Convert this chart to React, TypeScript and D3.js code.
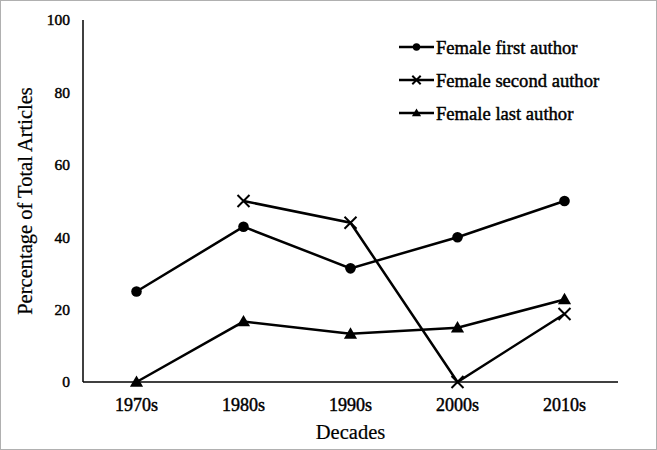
import React from "react";
import * as d3 from "d3";

const categories = ["1970s", "1980s", "1990s", "2000s", "2010s"];
const firstAuthor: (number | null)[] = [25, 42.9, 31.4, 40, 50];
const secondAuthor: (number | null)[] = [null, 50, 44, 0, 18.8];
const lastAuthor: (number | null)[] = [0, 16.7, 13.3, 15, 22.8];
const yTicks = [0, 20, 40, 60, 80, 100];
const seriesNames = ["Female first author", "Female second author", "Female last author"];

const W = 657, H = 450;
const margin = { left: 83, right: 39, top: 20, bottom: 68 };
const FONT = "'Liberation Serif', 'Times New Roman', serif";

function Marker({ kind, x, y, s = 1 }: { kind: string; x: number; y: number; s?: number }) {
  if (kind === "circle") return <circle cx={x} cy={y} r={5.3 * s} fill="#000" />;
  if (kind === "x") {
    const d = 6 * s;
    return (
      <path d={`M${x - d},${y - d}L${x + d},${y + d}M${x - d},${y + d}L${x + d},${y - d}`} stroke="#000" strokeWidth={2} fill="none" />
    );
  }
  const tri = d3.symbol(d3.symbolTriangle, 75 * s * s)();
  return <path d={tri as string} transform={`translate(${x},${y + 1 * s})`} fill="#000" />;
}

export default function App() {
  const x = d3.scaleBand().domain(categories).range([margin.left, W - margin.right]);
  const y = d3.scaleLinear().domain([0, 100]).range([H - margin.bottom, margin.top]);
  const cx = (c: string) => (x(c) as number) + x.bandwidth() / 2;

  const series = [
    { name: seriesNames[0], values: firstAuthor, marker: "circle" },
    { name: seriesNames[1], values: secondAuthor, marker: "x" },
    { name: seriesNames[2], values: lastAuthor, marker: "triangle" },
  ];

  const line = d3
    .line<{ c: string; v: number | null }>()
    .defined((d) => d.v !== null)
    .x((d) => cx(d.c))
    .y((d) => y(d.v as number));

  const heavy = { stroke: "#000", strokeWidth: 0.45 };

  return (
    <svg width={W} height={H} style={{ position: "absolute", left: 0, top: 0, background: "#fff" }} fontFamily={FONT}>
      <rect x={0.5} y={0.5} width={W - 1} height={H - 1} fill="#fff" stroke="#b0b0b0" strokeWidth={1} />
      {/* axes */}
      <line x1={margin.left} x2={margin.left} y1={y(100)} y2={y(0)} stroke="#000" strokeWidth={1.5} />
      <line x1={margin.left} x2={W - margin.right} y1={y(0)} y2={y(0)} stroke="#000" strokeWidth={1.5} />
      {yTicks.map((t) => (
        <text key={t} x={margin.left - 13} y={y(t)} dy="0.35em" textAnchor="end" fontSize={15.5} fill="#000" {...heavy}>
          {t}
        </text>
      ))}
      {categories.map((c) => (
        <text key={c} x={cx(c)} y={y(0) + 23} dy="0.35em" textAnchor="middle" fontSize={18} fill="#000" {...heavy}>
          {c}
        </text>
      ))}
      <text x={cx("1990s")} y={432} dy="0.35em" textAnchor="middle" fontSize={20.5} fill="#000" stroke="#000" strokeWidth={0.2}>
        Decades
      </text>
      <text transform={`translate(25,${(y(0) + y(100)) / 2 + 0}) rotate(-90)`} dy="0.35em" textAnchor="middle" fontSize={20.5} fill="#000" stroke="#000" strokeWidth={0.2}>
        Percentage of Total Articles
      </text>
      {series.map((s) => {
        const data = categories.map((c, i) => ({ c, v: s.values[i] }));
        return (
          <g key={s.name}>
            <path d={line(data) as string} fill="none" stroke="#000" strokeWidth={2.5} />
            {data.filter((d) => d.v !== null).map((d) => (
              <Marker key={d.c} kind={s.marker} x={cx(d.c)} y={y(d.v as number)} />
            ))}
          </g>
        );
      })}
      {series.map((s, i) => {
        const ly = 47 + i * 33;
        return (
          <g key={"leg" + s.name}>
            <line x1={399} x2={434} y1={ly} y2={ly} stroke="#000" strokeWidth={2.5} />
            <Marker kind={s.marker} x={416.5} y={ly} s={0.7} />
            <text x={436} y={ly} dy="0.35em" fontSize={18.6} fill="#000" {...heavy}>
              {s.name}
            </text>
          </g>
        );
      })}
    </svg>
  );
}
